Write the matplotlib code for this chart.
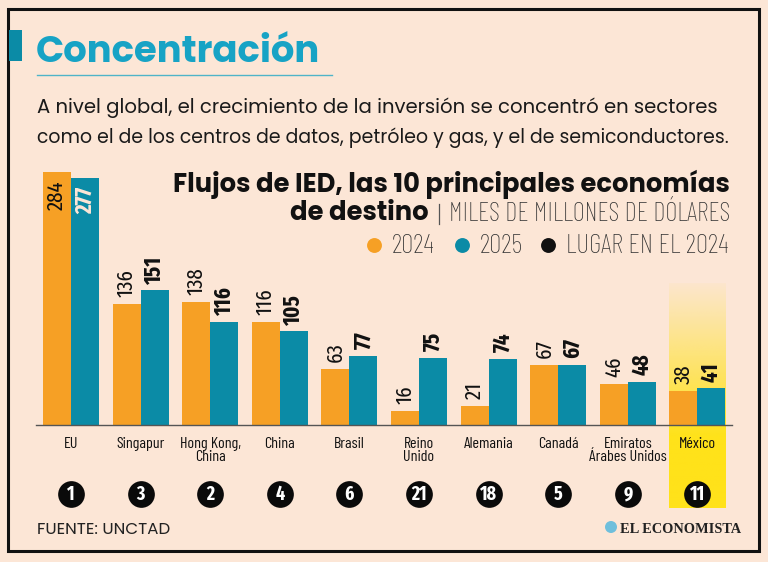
import numpy as np
import matplotlib
matplotlib.use("Agg")
import matplotlib.pyplot as plt
from matplotlib import font_manager
from matplotlib.colors import to_rgb
from matplotlib.patches import Rectangle, Circle

# Datos / data
paises = ["EU", "Singapur", "Hong Kong,\nChina", "China", "Brasil", "Reino\nUnido",
          "Alemania", "Canadá", "Emiratos\nÁrabes Unidos", "México"]
ied_2024 = [284, 136, 138, 116, 63, 16, 21, 67, 46, 38]
ied_2025 = [277, 151, 116, 105, 77, 75, 74, 67, 48, 41]
lugar_2024 = [1, 3, 2, 4, 6, 21, 18, 5, 9, 11]

BG = "#fce6d6"
NARANJA = "#f6a025"
TEAL = "#0b8ba6"
TITULO = "#17a3c5"
AMARILLO = "#ffe21a"

# Fuentes / fonts
nombres = {f.name for f in font_manager.fontManager.ttflist}
def elegir(*cands):
    for c in cands:
        if c in nombres:
            return c
    return "DejaVu Sans"

GEO = elegir("Poppins", "Lato")
NARROW = elegir("Barlow Condensed", "Roboto Condensed", "Liberation Sans Narrow")
XNARROW = elegir("Saira Extra Condensed", "Fira Sans Extra Condensed", "Barlow Condensed")
SERIF = elegir("Liberation Serif", "DejaVu Serif")

W, H = 768, 562
fig = plt.figure(figsize=(W / 100, H / 100), dpi=100, facecolor=BG)
rend = fig.canvas.get_renderer()

def ajustar(t, ancho):
    # escala el texto a un ancho en pixeles / scale text to a pixel width
    w = t.get_window_extent(rend).width
    t.set_fontsize(t.get_fontsize() * ancho / w)
    return t

# Capa de fondo en pixeles / background layer in pixels
bg = fig.add_axes([0, 0, 1, 1])
bg.set_xlim(0, W)
bg.set_ylim(H, 0)
bg.axis("off")
bg.add_patch(Rectangle((8, 9), 751, 542, fill=False, ec="#111111", lw=2.2))
bg.add_patch(Rectangle((9, 30), 13, 31, fc="#0b8ba6", ec="none"))
ajustar(bg.text(36, 62, "Concentración", color=TITULO, fontsize=28, fontweight="bold",
                family=GEO, va="baseline"), 285)
bg.plot([37, 332], [75, 75], color="#4fb4c8", lw=1)
ajustar(bg.text(37, 113, "A nivel global, el crecimiento de la inversión se concentró en sectores",
                fontsize=15, family=GEO, fontweight="normal", color="#1a1a1a", va="baseline"), 681)
ajustar(bg.text(37, 143, "como el de los centros de datos, petróleo y gas, y el de semiconductores.",
                fontsize=15, family=GEO, fontweight="normal", color="#1a1a1a", va="baseline"), 693)

# Titulo del grafico / chart title
t1 = ajustar(bg.text(730, 192, "Flujos de IED, las 10 principales economías", ha="right",
                     va="baseline", fontsize=17, fontweight="bold", family=GEO,
                     color="#111111"), 557)
t2 = ajustar(bg.text(730, 221, "MILES DE MILLONES DE DÓLARES", ha="right", va="baseline",
                     fontsize=13, family=NARROW, fontweight="light", color="#333333"), 282)
xl = t2.get_window_extent(rend).x0
bg.plot([xl - 10, xl - 10], [204, 224], color="#555555", lw=0.9)
bg.text(xl - 20, 220, "de destino", ha="right", va="baseline",
        fontsize=t1.get_fontsize(), fontweight="bold", family=GEO, color="#111111")

# Leyenda / legend
leyenda = [(374, NARANJA, "2024"), (462, TEAL, "2025"), (548, "#111111", "LUGAR EN EL 2024")]
prueba = bg.text(0, 0, "LUGAR EN EL 2024", fontsize=14, family=NARROW, fontweight="light")
fs_ley = 14 * 163 / prueba.get_window_extent(rend).width
prueba.remove()
for xd, col, lab in leyenda:
    bg.scatter([xd], [245], s=115, color=col, zorder=3, lw=0)
    bg.text(xd + 18, 253, lab, fontsize=fs_ley, family=NARROW, fontweight="light",
            color="#333333", va="baseline")

ajustar(bg.text(37, 534, "FUENTE: UNCTAD", fontsize=12, family=GEO, fontweight="normal",
                color="#222222", va="baseline"), 133)
bg.add_patch(Circle((611, 527), 6, fc="#6fbfdc", ec="none"))
ajustar(bg.text(620, 533, "EL ECONOMISTA", fontsize=11.5, fontweight="bold", family=SERIF,
                color="#222222", va="baseline"), 121)

# Barras / bars
x0, x1 = 36.2, 732.2
yb = 425
ppu = 0.891
ymax = 300
ax = fig.add_axes([x0 / W, (H - yb) / H, (x1 - x0) / W, ymax * ppu / H])
ax.set_xlim(-0.5, 9.5)
ax.set_ylim(0, ymax)
ax.patch.set_alpha(0)
ax.axis("off")

x = np.arange(len(paises))
bw = 0.402

# Resaltado de México / highlight
grad = np.zeros((256, 1, 4))
grad[:, :, :3] = to_rgb(AMARILLO)
grad[:, 0, 3] = np.clip(np.linspace(0.05, 1.45, 256), 0, 1)
ax.imshow(grad, extent=(8.59, 9.40, -93, 159), aspect="auto", origin="upper",
          clip_on=False, zorder=0)

ax.bar(x - bw / 2, ied_2024, bw, color=NARANJA, zorder=2)
ax.bar(x + bw / 2, ied_2025, bw, color=TEAL, zorder=2)
ax.plot([-0.5, 9.5], [0, 0], color="#555555", lw=1, zorder=3, clip_on=False)

# tamaño de etiquetas / label sizes
prueba = ax.text(0, 0, "136", fontsize=16, family=XNARROW, fontweight="normal")
fs_val = 16 * 28 / prueba.get_window_extent(rend).width
prueba.remove()
prueba = ax.text(0, 0, "Alemania", fontsize=13, family=NARROW, fontweight="normal")
fs_pais = 13 * 50 / prueba.get_window_extent(rend).width
prueba.remove()

for i in range(len(paises)):
    v1, v2 = ied_2024[i], ied_2025[i]
    dentro = i == 0
    off = -6 if dentro else 5
    va = "top" if dentro else "bottom"
    ax.annotate(str(v1), (x[i] - bw / 2, v1), xytext=(0, off), textcoords="offset points",
                rotation=90, ha="center", va=va, fontsize=fs_val, family=XNARROW,
                fontweight="normal", color="#111111", zorder=4)
    ax.annotate(str(v2), (x[i] + bw / 2, v2), xytext=(0, off), textcoords="offset points",
                rotation=90, ha="center", va=va, fontsize=fs_val, family=XNARROW,
                fontweight="bold", color=BG if dentro else "#111111", zorder=4)
    ax.text(x[i], -14, paises[i], ha="center", va="top", fontsize=fs_pais, family=NARROW,
            fontweight="normal", color="#111111", linespacing=0.88, clip_on=False)

ax.scatter(x, [-78] * len(x), s=370, color="#0a0a0a", clip_on=False, zorder=4, lw=0)
for i in range(len(x)):
    ax.text(x[i], -78, str(lugar_2024[i]), ha="center", va="center", fontsize=fs_val * 0.85,
            fontweight="bold", family=XNARROW, color="white", zorder=5, clip_on=False)

fig.savefig("out.png", dpi=100, facecolor=BG)
